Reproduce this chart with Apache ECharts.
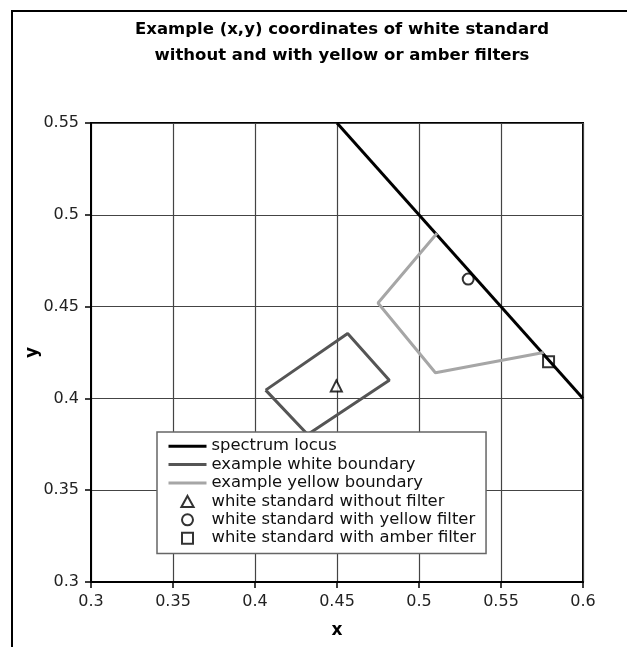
<!DOCTYPE html>
<html>
<head>
<meta charset="utf-8">
<script src="https://cdn.jsdelivr.net/npm/echarts@6/dist/echarts.min.js"></script>
<style>
html,body{margin:0;padding:0;background:#fff;}
#chart{width:627px;height:647px;}
</style>
</head>
<body>
<div id="chart"></div>
<script>
// ---- data ----
const seriesNames = [
  'spectrum locus',
  'example white boundary',
  'example yellow boundary',
  'white standard without filter',
  'white standard with yellow filter',
  'white standard with amber filter'
];
const locusX = [0.45, 0.6];
const locusY = [0.55, 0.40];
const whiteX = [0.4065, 0.4565, 0.4819, 0.4321, 0.4065];
const whiteY = [0.4045, 0.4354, 0.4099, 0.3803, 0.4045];
const yellowX = [0.511, 0.475, 0.510, 0.576];
const yellowY = [0.490, 0.452, 0.414, 0.425];
const noFilterX = [0.4496];
const noFilterY = [0.4068];
const yellowFilterX = [0.530];
const yellowFilterY = [0.465];
const amberFilterX = [0.579];
const amberFilterY = [0.420];
const xMin = 0.3, xMax = 0.6, xStep = 0.05;
const yMin = 0.3, yMax = 0.55, yStep = 0.05;

function pts(xs, ys) { return xs.map((x, i) => [x, ys[i]]); }

const FONT = 'DejaVu Sans';
const chart = echarts.init(document.getElementById('chart'), null, {renderer: 'canvas'});

const markerStyle = {color: '#ffffff', borderColor: '#000000', borderWidth: 2};
const lineColors = ['#000000', '#555555', '#a6a6a6'];
const TRI = 'path://M5,0L10,9L0,9Z';
const SQR = 'path://M0,0L10,0L10,10L0,10Z';

chart.setOption({
  animation: false,
  backgroundColor: '#ffffff',
  textStyle: {fontFamily: FONT, color: '#111'},
  title: {
    text: 'Example (x,y) coordinates of white standard\nwithout and with yellow or amber filters',
    left: 337,
    top: 12,
    textAlign: 'center',
    textStyle: {fontFamily: FONT, fontWeight: 'bold', fontSize: 16.5, lineHeight: 26, color: '#000'}
  },
  graphic: [{
    type: 'rect',
    shape: {x: 12, y: 11, width: 800, height: 800},
    style: {fill: 'none', stroke: '#000', lineWidth: 2},
    silent: true
  }],
  grid: {
    left: 91, top: 123, width: 492, height: 459,
    show: true, borderColor: '#000', borderWidth: 2, backgroundColor: 'transparent'
  },
  xAxis: {
    type: 'value', min: xMin, max: xMax, interval: xStep,
    name: 'x', nameLocation: 'middle', nameGap: 40,
    nameTextStyle: {fontFamily: FONT, fontWeight: 'bold', fontSize: 17, color: '#000'},
    axisLine: {show: true, onZero: false, lineStyle: {color: '#000', width: 2}},
    axisTick: {show: true, length: 6, lineStyle: {color: '#000', width: 1.5}},
    axisLabel: {fontFamily: FONT, fontSize: 16, color: '#222', margin: 12},
    splitLine: {show: true, lineStyle: {color: '#444', width: 1.2}}
  },
  yAxis: {
    type: 'value', min: yMin, max: yMax, interval: yStep,
    name: 'y', nameLocation: 'middle', nameGap: 50, nameRotate: 90, nameMoveOverlap: false,
    nameTextStyle: {fontFamily: FONT, fontWeight: 'bold', fontSize: 17, color: '#000'},
    axisLine: {show: true, onZero: false, lineStyle: {color: '#000', width: 2}},
    axisTick: {show: true, length: 6, lineStyle: {color: '#000', width: 1.5}},
    axisLabel: {fontFamily: FONT, fontSize: 16, color: '#222', margin: 12},
    splitLine: {show: true, lineStyle: {color: '#444', width: 1.2}}
  },
  legend: {
    orient: 'vertical',
    left: 157, top: 432,
    backgroundColor: '#ffffff',
    borderColor: '#666', borderWidth: 1.5, borderRadius: 0,
    padding: [5, 10, 6, 10],
    itemWidth: 38, itemHeight: 11, itemGap: 0,
    symbolKeepAspect: true,
    textStyle: {fontFamily: FONT, fontSize: 16.4, color: '#111', lineHeight: 18.4},
    data: [
      {name: seriesNames[0], itemStyle: {opacity: 0}, lineStyle: {color: lineColors[0], width: 3}},
      {name: seriesNames[1], itemStyle: {opacity: 0}, lineStyle: {color: lineColors[1], width: 3}},
      {name: seriesNames[2], itemStyle: {opacity: 0}, lineStyle: {color: lineColors[2], width: 3}},
      {name: seriesNames[3], icon: TRI, itemStyle: markerStyle},
      {name: seriesNames[4], icon: 'circle', itemStyle: markerStyle},
      {name: seriesNames[5], icon: SQR, itemStyle: markerStyle}
    ]
  },
  series: [
    {name: seriesNames[0], type: 'line', data: pts(locusX, locusY), symbol: 'none',
     lineStyle: {color: lineColors[0], width: 3}, itemStyle: {color: lineColors[0]}},
    {name: seriesNames[1], type: 'line', data: pts(whiteX, whiteY), symbol: 'none',
     lineStyle: {color: lineColors[1], width: 3}, itemStyle: {color: lineColors[1]}},
    {name: seriesNames[2], type: 'line', data: pts(yellowX, yellowY), symbol: 'none',
     lineStyle: {color: lineColors[2], width: 3}, itemStyle: {color: lineColors[2]}},
    {name: seriesNames[3], type: 'scatter', data: pts(noFilterX, noFilterY), symbol: 'triangle',
     symbolSize: 11, itemStyle: markerStyle},
    {name: seriesNames[4], type: 'scatter', data: pts(yellowFilterX, yellowFilterY), symbol: 'circle',
     symbolSize: 11, itemStyle: markerStyle},
    {name: seriesNames[5], type: 'scatter', data: pts(amberFilterX, amberFilterY), symbol: 'rect',
     symbolSize: 11, itemStyle: markerStyle}
  ]
});
</script>
</body>
</html>
